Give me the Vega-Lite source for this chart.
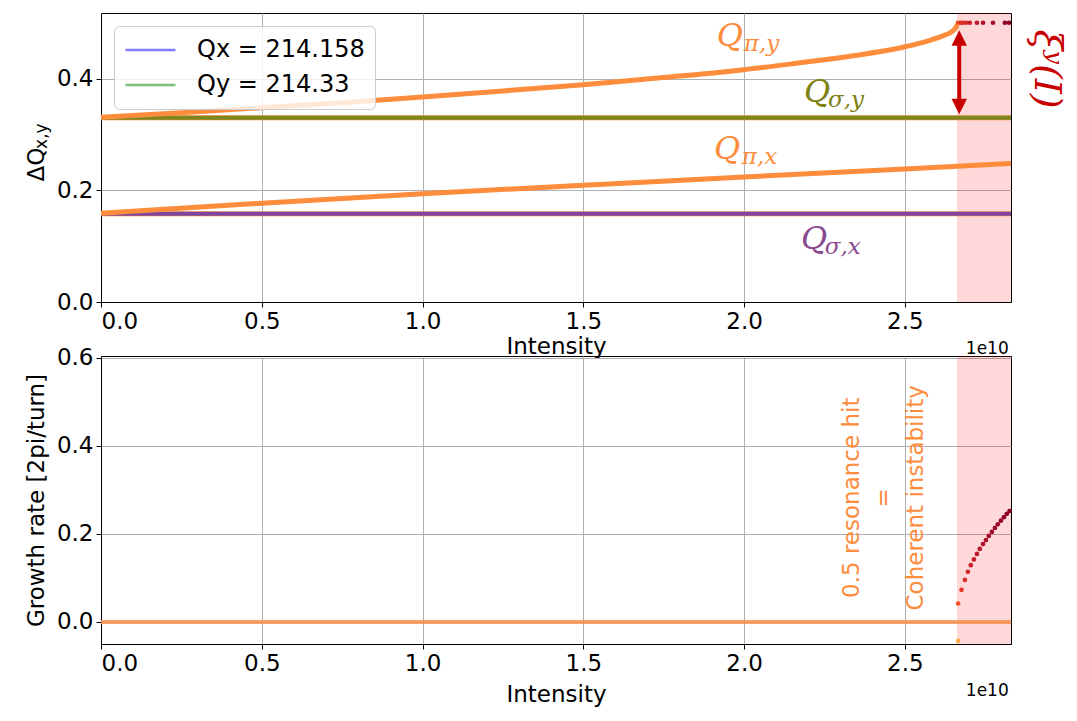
{
  "$schema": "https://vega.github.io/schema/vega-lite/v6.json",
  "background": "white",
  "padding": {"left": 24, "top": 12, "right": 5, "bottom": 5},
  "spacing": 54,
  "bounds": "flush",
  "config": {
    "font": "DejaVu Sans",
    "view": {"stroke": "black", "strokeWidth": 1},
    "axis": {
      "labelFont": "DejaVu Sans", "labelFontSize": 23, "labelColor": "black",
      "titleFont": "DejaVu Sans", "titleFontSize": 23, "titleFontWeight": "normal", "titleColor": "black",
      "domainColor": "black", "tickColor": "black", "tickSize": 5, "labelPadding": 3,
      "gridColor": "#b0b0b0", "gridWidth": 1
    }
  },
  "datasets": {
    "zone": [{"start": 2.662e10, "end": 2.83e10}],
    "qpi": [
      {"series": "pi_y", "I": 0, "q": 0.331},
      {"series": "pi_y", "I": 0.25e10, "q": 0.339},
      {"series": "pi_y", "I": 0.5e10, "q": 0.348},
      {"series": "pi_y", "I": 0.75e10, "q": 0.357},
      {"series": "pi_y", "I": 1.0e10, "q": 0.367},
      {"series": "pi_y", "I": 1.25e10, "q": 0.378},
      {"series": "pi_y", "I": 1.5e10, "q": 0.389},
      {"series": "pi_y", "I": 1.75e10, "q": 0.402},
      {"series": "pi_y", "I": 2.0e10, "q": 0.416},
      {"series": "pi_y", "I": 2.17e10, "q": 0.428},
      {"series": "pi_y", "I": 2.33e10, "q": 0.440},
      {"series": "pi_y", "I": 2.5e10, "q": 0.457},
      {"series": "pi_y", "I": 2.58e10, "q": 0.469},
      {"series": "pi_y", "I": 2.62e10, "q": 0.477},
      {"series": "pi_y", "I": 2.64e10, "q": 0.482},
      {"series": "pi_y", "I": 2.65e10, "q": 0.486},
      {"series": "pi_y", "I": 2.658e10, "q": 0.491},
      {"series": "pi_y", "I": 2.663e10, "q": 0.497},
      {"series": "pi_x", "I": 0, "q": 0.159},
      {"series": "pi_x", "I": 0.5e10, "q": 0.177},
      {"series": "pi_x", "I": 1.0e10, "q": 0.194},
      {"series": "pi_x", "I": 1.5e10, "q": 0.209},
      {"series": "pi_x", "I": 2.0e10, "q": 0.224},
      {"series": "pi_x", "I": 2.5e10, "q": 0.238},
      {"series": "pi_x", "I": 2.83e10, "q": 0.248}
    ],
    "qsigma": [
      {"series": "Qx = 214.158", "I": 0, "q": 0.158},
      {"series": "Qx = 214.158", "I": 2.83e10, "q": 0.158},
      {"series": "Qy = 214.33", "I": 0, "q": 0.33},
      {"series": "Qy = 214.33", "I": 2.83e10, "q": 0.33}
    ],
    "topdots": [
      {"I": 2.665e10, "q": 0.5, "growth": 0.042},
      {"I": 2.674e10, "q": 0.5, "growth": 0.073},
      {"I": 2.680e10, "q": 0.5, "growth": 0.09},
      {"I": 2.690e10, "q": 0.5, "growth": 0.11},
      {"I": 2.702e10, "q": 0.5, "growth": 0.13},
      {"I": 2.724e10, "q": 0.5, "growth": 0.155},
      {"I": 2.743e10, "q": 0.5, "growth": 0.177},
      {"I": 2.774e10, "q": 0.5, "growth": 0.205},
      {"I": 2.811e10, "q": 0.5, "growth": 0.24},
      {"I": 2.824e10, "q": 0.5, "growth": 0.25}
    ],
    "unstable": [
      {"I": 2.6657e10, "growth": -0.043},
      {"I": 2.6657e10, "growth": 0.042},
      {"I": 2.676e10, "growth": 0.073},
      {"I": 2.6866e10, "growth": 0.0955},
      {"I": 2.696e10, "growth": 0.114},
      {"I": 2.705e10, "growth": 0.129},
      {"I": 2.7146e10, "growth": 0.142},
      {"I": 2.724e10, "growth": 0.1545},
      {"I": 2.733e10, "growth": 0.166},
      {"I": 2.743e10, "growth": 0.177},
      {"I": 2.752e10, "growth": 0.186},
      {"I": 2.761e10, "growth": 0.1955},
      {"I": 2.7705e10, "growth": 0.2045},
      {"I": 2.78e10, "growth": 0.2136},
      {"I": 2.789e10, "growth": 0.222},
      {"I": 2.7985e10, "growth": 0.230},
      {"I": 2.808e10, "growth": 0.238},
      {"I": 2.817e10, "growth": 0.2455},
      {"I": 2.8256e10, "growth": 0.252}
    ],
    "zeroline": [
      {"I": 0, "growth": 0},
      {"I": 2.83e10, "growth": 0}
    ],
    "arrowshaft": [{"I": 2.669e10, "q1": 0.474, "q2": 0.349}],
    "arrowheads": [
      {"I": 2.669e10, "q": 0.4865, "dir": "up"},
      {"I": 2.669e10, "q": 0.336, "dir": "down"}
    ],
    "qlabels": [
      {"name": "pi_y", "I": 1.915e10, "q": 0.458, "text": "Q"},
      {"name": "sigma_y", "I": 2.186e10, "q": 0.358, "text": "Q"},
      {"name": "pi_x", "I": 1.906e10, "q": 0.256, "text": "Q"},
      {"name": "sigma_x", "I": 2.177e10, "q": 0.095, "text": "Q"}
    ],
    "qsubs": [
      {"name": "pi_y", "I": 1.999e10, "q": 0.449, "text": "π,y"},
      {"name": "sigma_y", "I": 2.261e10, "q": 0.349, "text": "σ,y"},
      {"name": "pi_x", "I": 1.993e10, "q": 0.247, "text": "π,x"},
      {"name": "sigma_x", "I": 2.251e10, "q": 0.086, "text": "σ,x"}
    ]
  },
  "vconcat": [
    {
      "width": 910,
      "height": 289,
      "layer": [
        {
          "data": {"name": "zone"},
          "mark": {"type": "rect", "fill": "#ff0000", "opacity": 0.15},
          "encoding": {
            "x": {"field": "start", "type": "quantitative"},
            "x2": {"field": "end"}
          }
        },
        {
          "data": {"name": "qsigma"},
          "mark": {"type": "line", "color": "#fd8d3c", "strokeWidth": 5},
          "encoding": {
            "x": {"field": "I", "type": "quantitative",
              "scale": {"domain": [0, 2.83e10], "nice": false, "zero": false},
              "axis": {"title": "Intensity", "values": [0, 0.5e10, 1.0e10, 1.5e10, 2.0e10, 2.5e10],
                "labelExpr": "format(datum.value / 1e10, '.1f')", "grid": true, "titlePadding": 2}},
            "y": {"field": "q", "type": "quantitative",
              "scale": {"domain": [0, 0.5175], "nice": false, "zero": false},
              "axis": {"title": "ΔQ", "values": [0, 0.2, 0.4], "format": ".1f", "grid": true, "titlePadding": 8, "titleY": 151}},
            "detail": {"field": "series"}
          }
        },
        {
          "data": {"name": "qsigma"},
          "mark": {"type": "line", "strokeWidth": 4, "opacity": 0.5},
          "encoding": {
            "x": {"field": "I", "type": "quantitative"},
            "y": {"field": "q", "type": "quantitative"},
            "color": {"field": "series", "type": "nominal",
              "scale": {"domain": ["Qx = 214.158", "Qy = 214.33"], "range": ["#0000ff", "#008000"]},
              "legend": {"title": null, "orient": "top-left", "offset": 13, "padding": 10,
                "symbolType": "stroke", "symbolSize": 2500, "symbolStrokeWidth": 2.5, "symbolOpacity": 0.5,
                "clipHeight": 28, "labelLimit": 400,
                "labelFontSize": 24, "labelFont": "DejaVu Sans", "labelColor": "black", "labelOffset": 20, "rowPadding": 7,
                "fillColor": "rgba(255,255,255,0.8)", "strokeColor": "#cccccc", "cornerRadius": 5}}
          }
        },
        {
          "data": {"name": "qpi"},
          "mark": {"type": "line", "color": "#fd8d3c", "strokeWidth": 5, "interpolate": "monotone"},
          "encoding": {
            "x": {"field": "I", "type": "quantitative"},
            "y": {"field": "q", "type": "quantitative"},
            "detail": {"field": "series"}
          }
        },
        {
          "data": {"name": "topdots"},
          "mark": {"type": "point", "filled": true, "size": 22, "opacity": 1},
          "encoding": {
            "x": {"field": "I", "type": "quantitative"},
            "y": {"field": "q", "type": "quantitative"},
            "fill": {"field": "growth", "type": "quantitative",
              "scale": {"domain": [-0.05, 0, 0.05, 0.25], "range": ["#feb24c", "#fd8d3c", "#f03b20", "#8b0026"]},
              "legend": null}
          }
        },
        {
          "data": {"name": "arrowshaft"},
          "mark": {"type": "rule", "color": "#c80000", "strokeWidth": 4},
          "encoding": {
            "x": {"field": "I", "type": "quantitative"},
            "y": {"field": "q1", "type": "quantitative"},
            "y2": {"field": "q2"}
          }
        },
        {
          "data": {"name": "arrowheads"},
          "mark": {"type": "point", "filled": true, "color": "#c80000", "size": 961, "opacity": 1},
          "encoding": {
            "x": {"field": "I", "type": "quantitative"},
            "y": {"field": "q", "type": "quantitative"},
            "shape": {"field": "dir", "type": "nominal",
              "scale": {"domain": ["up", "down"], "range": ["M0,0L0.5,1L-0.5,1Z", "M0,0L0.5,-1L-0.5,-1Z"]},
              "legend": null}
          }
        },
        {
          "data": {"name": "qlabels"},
          "transform": [{"filter": "datum.name == 'pi_y' || datum.name == 'pi_x'"}],
          "mark": {"type": "text", "font": "DejaVu Serif", "fontStyle": "italic", "fontSize": 32, "color": "#fd8d3c", "align": "left", "baseline": "alphabetic"},
          "encoding": {
            "x": {"field": "I", "type": "quantitative"},
            "y": {"field": "q", "type": "quantitative"},
            "text": {"field": "text"}
          }
        },
        {
          "data": {"name": "qsubs"},
          "transform": [{"filter": "datum.name == 'pi_y' || datum.name == 'pi_x'"}],
          "mark": {"type": "text", "font": "DejaVu Serif", "fontStyle": "italic", "fontSize": 23, "color": "#fd8d3c", "align": "left", "baseline": "alphabetic"},
          "encoding": {
            "x": {"field": "I", "type": "quantitative"},
            "y": {"field": "q", "type": "quantitative"},
            "text": {"field": "text"}
          }
        },
        {
          "data": {"name": "qlabels"},
          "transform": [{"filter": "datum.name == 'sigma_y'"}],
          "mark": {"type": "text", "font": "DejaVu Serif", "fontStyle": "italic", "fontSize": 32, "color": "#808010", "align": "left", "baseline": "alphabetic"},
          "encoding": {
            "x": {"field": "I", "type": "quantitative"},
            "y": {"field": "q", "type": "quantitative"},
            "text": {"field": "text"}
          }
        },
        {
          "data": {"name": "qsubs"},
          "transform": [{"filter": "datum.name == 'sigma_y'"}],
          "mark": {"type": "text", "font": "DejaVu Serif", "fontStyle": "italic", "fontSize": 23, "color": "#808010", "align": "left", "baseline": "alphabetic"},
          "encoding": {
            "x": {"field": "I", "type": "quantitative"},
            "y": {"field": "q", "type": "quantitative"},
            "text": {"field": "text"}
          }
        },
        {
          "data": {"name": "qlabels"},
          "transform": [{"filter": "datum.name == 'sigma_x'"}],
          "mark": {"type": "text", "font": "DejaVu Serif", "fontStyle": "italic", "fontSize": 32, "color": "#8a4a8e", "align": "left", "baseline": "alphabetic"},
          "encoding": {
            "x": {"field": "I", "type": "quantitative"},
            "y": {"field": "q", "type": "quantitative"},
            "text": {"field": "text"}
          }
        },
        {
          "data": {"name": "qsubs"},
          "transform": [{"filter": "datum.name == 'sigma_x'"}],
          "mark": {"type": "text", "font": "DejaVu Serif", "fontStyle": "italic", "fontSize": 23, "color": "#8a4a8e", "align": "left", "baseline": "alphabetic"},
          "encoding": {
            "x": {"field": "I", "type": "quantitative"},
            "y": {"field": "q", "type": "quantitative"},
            "text": {"field": "text"}
          }
        },
        {
          "data": {"values": [{"I": 2.938e10, "q": 0.417, "text": "ξʸ(I)"}]},
          "mark": {"type": "text", "font": "DejaVu Serif", "fontStyle": "italic", "fontSize": 38, "color": "#c80000", "angle": 90, "align": "center", "baseline": "middle"},
          "encoding": {
            "x": {"field": "I", "type": "quantitative"},
            "y": {"field": "q", "type": "quantitative"},
            "text": {"field": "text"}
          }
        },
        {
          "data": {"values": [{"I": -0.168e10, "q": 0.297, "text": "x,y"}]},
          "mark": {"type": "text", "font": "DejaVu Sans", "fontSize": 17, "color": "black", "angle": 270, "align": "center", "baseline": "alphabetic"},
          "encoding": {
            "x": {"field": "I", "type": "quantitative"},
            "y": {"field": "q", "type": "quantitative"},
            "text": {"field": "text"}
          }
        },
        {
          "data": {"values": [{"I": 2.823e10, "q": -0.0935, "text": "1e10"}]},
          "mark": {"type": "text", "font": "DejaVu Sans", "fontSize": 17, "color": "black", "align": "right", "baseline": "alphabetic"},
          "encoding": {
            "x": {"field": "I", "type": "quantitative"},
            "y": {"field": "q", "type": "quantitative"},
            "text": {"field": "text"}
          }
        }
      ]
    },
    {
      "width": 910,
      "height": 288,
      "layer": [
        {
          "data": {"name": "zone"},
          "mark": {"type": "rect", "fill": "#ff0000", "opacity": 0.15},
          "encoding": {
            "x": {"field": "start", "type": "quantitative"},
            "x2": {"field": "end"}
          }
        },
        {
          "data": {"name": "zeroline"},
          "mark": {"type": "line", "color": "#f7904e", "strokeWidth": 4, "opacity": 0.85},
          "encoding": {
            "x": {"field": "I", "type": "quantitative",
              "scale": {"domain": [0, 2.83e10], "nice": false, "zero": false},
              "axis": {"title": "Intensity", "values": [0, 0.5e10, 1.0e10, 1.5e10, 2.0e10, 2.5e10],
                "labelExpr": "format(datum.value / 1e10, '.1f')", "grid": true, "titlePadding": 8}},
            "y": {"field": "growth", "type": "quantitative",
              "scale": {"domain": [-0.05, 0.604], "nice": false, "zero": false},
              "axis": {"title": "Growth rate [2pi/turn]", "values": [0, 0.2, 0.4, 0.6], "format": ".1f", "grid": true, "titlePadding": 8}}
          }
        },
        {
          "data": {"name": "unstable"},
          "mark": {"type": "point", "filled": true, "size": 22, "opacity": 1},
          "encoding": {
            "x": {"field": "I", "type": "quantitative"},
            "y": {"field": "growth", "type": "quantitative"},
            "fill": {"field": "growth", "type": "quantitative",
              "scale": {"domain": [-0.05, 0, 0.05, 0.25], "range": ["#feb24c", "#fd8d3c", "#f03b20", "#8b0026"]},
              "legend": null}
          }
        },
        {
          "data": {"values": [{"I": 2.335e10, "growth": 0.282}]},
          "mark": {"type": "text", "text": ["0.5 resonance hit", "=", "Coherent instability"], "font": "DejaVu Sans", "fontSize": 23, "lineHeight": 32, "color": "#fd8d3c", "angle": 270, "align": "center", "baseline": "middle"},
          "encoding": {
            "x": {"field": "I", "type": "quantitative"},
            "y": {"field": "growth", "type": "quantitative"}
          }
        },
        {
          "data": {"values": [{"I": 2.823e10, "growth": -0.168, "text": "1e10"}]},
          "mark": {"type": "text", "font": "DejaVu Sans", "fontSize": 17, "color": "black", "align": "right", "baseline": "alphabetic"},
          "encoding": {
            "x": {"field": "I", "type": "quantitative"},
            "y": {"field": "growth", "type": "quantitative"},
            "text": {"field": "text"}
          }
        }
      ]
    }
  ]
}
